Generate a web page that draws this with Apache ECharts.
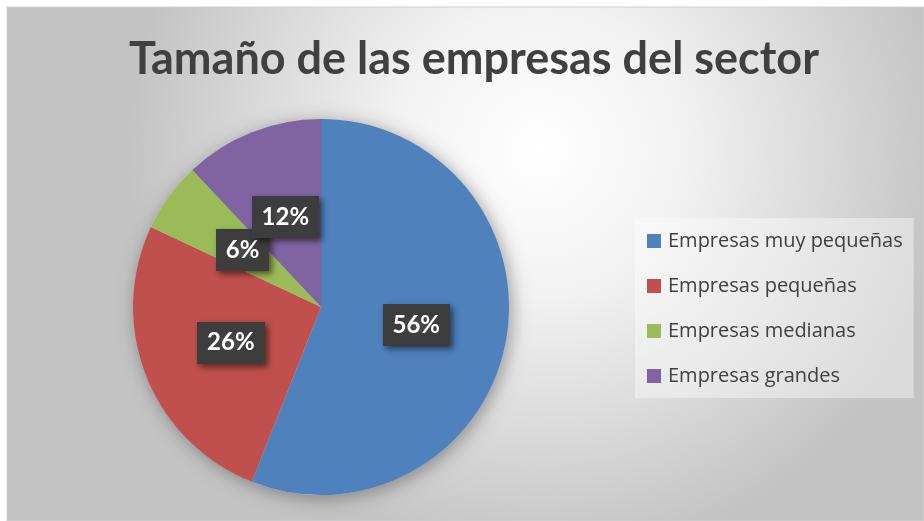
<!DOCTYPE html>
<html>
<head>
    <meta charset="utf-8" />
    <title>Tamaño de las empresas del sector</title>
    <script src="https://cdn.jsdelivr.net/npm/echarts@6/dist/echarts.min.js" type="text/javascript"></script>
    <style>
        html, body {
            width: 100%;
            height: 100%;
            margin: 0px;
            padding: 0px;
            background: #fff;
        }
        #main {
            width: 924px;
            height: 521px;
        }
    </style>
</head>
<body>
    <div id="main"></div>
</body>
<script type="text/javascript">
    // data
    var categories = ['Empresas muy pequeñas', 'Empresas pequeñas', 'Empresas medianas', 'Empresas grandes'];
    var values = [56, 26, 6, 12];
    var colors = ['#4F81BD', '#C0504D', '#9BBB59', '#8064A2'];
    var titleText = 'Tamaño de las empresas del sector';

    // dotted dark texture for the labels
    var tex = document.createElement('canvas');
    tex.width = 9;
    tex.height = 9;
    var ctx = tex.getContext('2d');
    ctx.fillStyle = '#3d3d3d';
    ctx.fillRect(0, 0, 9, 9);
    ctx.fillStyle = '#4b4b4b';
    ctx.beginPath();
    ctx.arc(4.5, 4.5, 1.6, 0, Math.PI * 2);
    ctx.fill();

    var myChart = echarts.init(document.getElementById('main'));

    var pieData = categories.map(function (name, i) {
        return { name: name, value: values[i], itemStyle: { color: colors[i] } };
    });

    myChart.setOption({
        animation: false,
        backgroundColor: '#fff',
        graphic: [{
            type: 'rect',
            z: -10,
            silent: true,
            shape: { x: 7, y: 7, width: 917, height: 514 },
            style: {
                fill: new echarts.graphic.RadialGradient(0.58, 0.28, 0.8, [
                    { offset: 0, color: '#ffffff' },
                    { offset: 0.35, color: '#f2f2f2' },
                    { offset: 1, color: '#c3c3c3' }
                ]),
                stroke: '#d0d0d0',
                lineWidth: 1
            }
        }],
        title: {
            text: titleText,
            left: 124,
            top: 32,
            textStyle: {
                fontFamily: 'Lato',
                fontWeight: 'bold',
                fontSize: 45,
                color: '#404040'
            }
        },
        legend: {
            orient: 'vertical',
            left: 635,
            top: 218,
            padding: [13, 11, 12, 12],
            itemGap: 25,
            itemWidth: 14,
            itemHeight: 14,
            icon: 'rect',
            data: categories,
            backgroundColor: 'rgba(255,255,255,0.4)',
            textStyle: {
                fontFamily: 'Open Sans',
                fontSize: 20,
                lineHeight: 20,
                color: '#404040',
                padding: [0, 0, 0, 2]
            },
            selectedMode: false
        },
        series: [{
            // soft shadow under the pie
            type: 'pie',
            silent: true,
            center: [321, 307],
            radius: 188,
            z: 1,
            label: { show: false },
            labelLine: { show: false },
            data: [{ value: 1, name: 'sombra' }],
            itemStyle: {
                color: '#cfcfcf',
                shadowBlur: 18,
                shadowColor: 'rgba(0,0,0,0.35)',
                shadowOffsetX: 3,
                shadowOffsetY: 3
            }
        }, {
            type: 'pie',
            center: [321, 307],
            radius: 188,
            z: 2,
            startAngle: 90,
            clockwise: true,
            avoidLabelOverlap: false,
            data: pieData,
            itemStyle: { borderWidth: 0 },
            labelLayout: { hideOverlap: false },
            label: {
                show: true,
                position: 'inner',
                formatter: '{d}%',
                fontFamily: 'Lato',
                fontWeight: 'bold',
                fontSize: 24,
                color: '#fff',
                backgroundColor: { image: tex, repeat: 'repeat' },
                padding: [10, 10, 8, 10],
                shadowBlur: 6,
                shadowOffsetX: 3,
                shadowOffsetY: 3,
                shadowColor: 'rgba(0,0,0,0.55)'
            },
            emphasis: { disabled: true }
        }]
    });

    window.addEventListener('resize', function () {
        myChart.resize();
    });
</script>
</html>
